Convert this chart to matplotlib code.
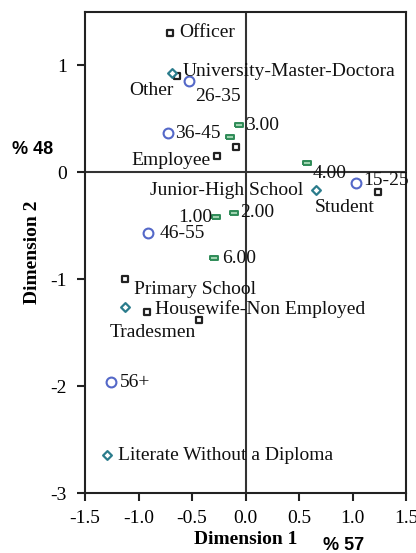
import matplotlib
matplotlib.use("Agg")
import matplotlib.pyplot as plt

plt.rcParams['font.family'] = ['Liberation Serif', 'DejaVu Serif']

# Occupation (squares)
occ_x = [-0.706, -0.640, -0.089, -0.266, 1.238, -1.126, -0.921, -0.435]
occ_y = [1.308, 0.897, 0.234, 0.150, -0.187, -1.000, -1.308, -1.383]
# Education (diamonds)
edu_x = [-0.687, 0.659, -1.126, -1.294]
edu_y = [0.925, -0.168, -1.262, -2.645]
# Age (circles)
age_x = [-0.528, -0.724, 1.033, -0.911, -1.257]
age_y = [0.850, 0.364, -0.103, -0.570, -1.963]
# Numeric categories (small green rectangles)
num_x = [-0.061, -0.145, 0.575, -0.276, -0.107, -0.294]
num_y = [0.439, 0.327, 0.084, -0.421, -0.383, -0.804]

label_text = ["Officer", "University-Master-Doctora", "Other", "26-35", "36-45",
              "3.00", "Employee", "4.00", "15-25", "Junior-High School",
              "Student", "1.00", "2.00", "46-55", "6.00", "Primary School",
              "Housewife-Non Employed", "Tradesmen", "56+",
              "Literate Without a Diploma"]
label_x = [-0.62, -0.59, -1.09, -0.47, -0.66, 0.00, -1.07, 0.63, 1.10, -0.89,
           0.65, -0.63, -0.05, -0.80, -0.22, -1.04, -0.85, -1.27, -1.17, -1.19]
label_y = [1.308, 0.94, 0.77, 0.71, 0.364, 0.44, 0.11, -0.01, -0.08, -0.168,
           -0.33, -0.42, -0.38, -0.57, -0.804, -1.10, -1.28, -1.50, -1.963, -2.645]

fig = plt.figure(figsize=(4.16, 5.53), dpi=100)
ax = fig.add_axes([85/416, 1-493/553, (406-85)/416, (493-12)/553])
ax.set_xlim(-1.5, 1.5)
ax.set_ylim(-3, 1.5)

ax.axvline(0, color='#333333', lw=1.5, zorder=1)
ax.axhline(0, color='#333333', lw=1.5, zorder=1)

rect = [(-1, -0.55), (1, -0.55), (1, 0.55), (-1, 0.55), (-1, -0.55)]

ax.scatter(occ_x, occ_y, marker='s', s=24, facecolor='white', edgecolor='#222222', linewidths=1.6, zorder=3)
ax.scatter(edu_x, edu_y, marker='D', s=20, facecolor='white', edgecolor='#2b7c8c', linewidths=1.6, zorder=3)
ax.scatter(age_x, age_y, marker='o', s=50, facecolor='white', edgecolor='#5468c8', linewidths=1.5, zorder=3)
ax.scatter(num_x, num_y, marker=rect, s=40, facecolor='#9fd4b0', edgecolor='#2e8b57', linewidths=1.4, zorder=3)

for t, x, y in zip(label_text, label_x, label_y):
    ax.text(x, y, t, fontsize=14, ha='left', va='center', color='#111111', zorder=4)

for s in ax.spines.values():
    s.set_linewidth(1.5)
    s.set_color('#222222')

ax.set_xticks([-1.5, -1.0, -0.5, 0.0, 0.5, 1.0, 1.5])
ax.set_xticklabels(['-1.5', '-1.0', '-0.5', '0.0', '0.5', '1.0', '1.5'])
ax.set_yticks([-3, -2, -1, 0, 1])
ax.set_yticklabels(['-3', '-2', '-1', '0', '1'])
ax.tick_params(axis='x', direction='out', length=6, width=1.5, labelsize=14, color='#222222', pad=6)
ax.tick_params(axis='y', direction='out', length=6, width=1.5, labelsize=14, color='#222222', pad=7)

ax.set_xlabel('Dimension 1', fontsize=14, fontweight='bold', labelpad=3)
ax.set_ylabel('Dimension 2', fontsize=14, fontweight='bold', labelpad=7)

fig.text(33/416, 1-150/553, '% 48', fontsize=13, fontweight='bold', family='Liberation Sans', ha='center', va='center')
fig.text(344/416, 1-546/553, '% 57', fontsize=13, fontweight='bold', family='Liberation Sans', ha='center', va='center')

fig.savefig('out.png', dpi=100)
